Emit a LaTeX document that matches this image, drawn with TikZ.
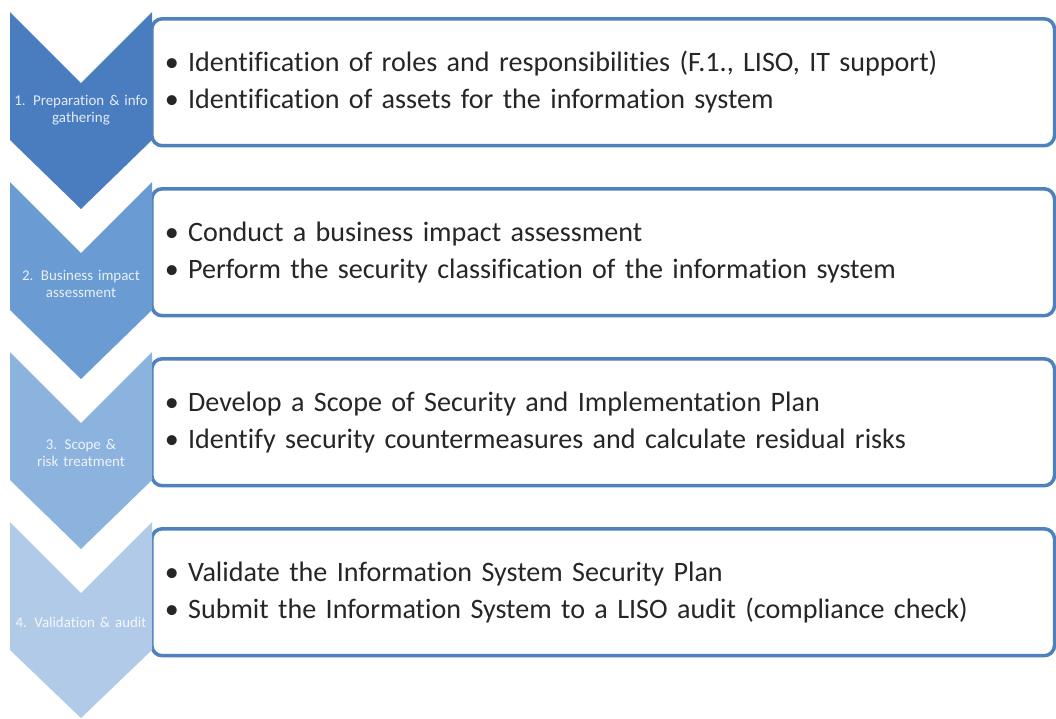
\documentclass[tikz,border=0pt]{standalone}
\usepackage{fontspec}
\setmainfont{Carlito}[Ligatures=NoCommon, WordSpace=0.8]
\usetikzlibrary{positioning}
\definecolor{boxblue}{HTML}{4F81BD}
\definecolor{stepA}{HTML}{4A7DC0}
\definecolor{stepB}{HTML}{6A9BD3}
\definecolor{stepC}{HTML}{8CB2DE}
\definecolor{stepD}{HTML}{B0CAE8}

\begin{document}
\begin{tikzpicture}[
    x=0.02cm, y=-0.02cm,
    every node/.style={font=\fontsize{16}{21}\selectfont, text=black!85},
    taskbox/.style={
        draw=boxblue,
        line width=2pt,
        rounded corners=6pt,
        fill=white,
        anchor=north west,
        align=left,
        text width=17.54cm,
        inner xsep=0.26cm,
        minimum height=2.54cm
    },
    chevlabel/.style={text=white, text opacity=0.85, font=\fontsize{8.5}{10}\selectfont, align=center, text width=2.8cm}
]
\useasboundingbox (0,0) rectangle (1056,718);

% row 1
\node[taskbox] (box1) at (150,17)
    {\textbullet\ Identification of roles and responsibilities (F.1., LISO, IT support)\\
     \textbullet\ Identification of assets for the information system};
\fill[stepA] (10,12) -- (81,83) -- (152,12) -- (152,140) -- (81,209) -- (10,140) -- cycle;
\node[chevlabel] (step1) at (81,110) {1. Preparation \& info\\gathering};

% row 2
\node[taskbox] (box2) at (150,187)
    {\textbullet\ Conduct a business impact assessment\\
     \textbullet\ Perform the security classification of the information system};
\fill[stepB] (10,182) -- (81,253) -- (152,182) -- (152,310) -- (81,379) -- (10,310) -- cycle;
\node[chevlabel] (step2) at (81,284) {2. Business impact\\assessment};

% row 3
\node[taskbox] (box3) at (150,357)
    {\textbullet\ Develop a Scope of Security and Implementation Plan\\
     \textbullet\ Identify security countermeasures and calculate residual risks};
\fill[stepC] (10,352) -- (81,423) -- (152,352) -- (152,480) -- (81,549) -- (10,480) -- cycle;
\node[chevlabel] (step3) at (81,453) {3. Scope \&\\risk treatment};

% row 4
\node[taskbox] (box4) at (150,527)
    {\textbullet\ Validate the Information System Security Plan\\
     \textbullet\ Submit the Information System to a LISO audit (compliance check)};
\fill[stepD] (10,522) -- (81,593) -- (152,522) -- (152,650) -- (81,718) -- (10,650) -- cycle;
\node[chevlabel] (step4) at (81,622) {4. Validation \& audit};
\end{tikzpicture}
\end{document}
